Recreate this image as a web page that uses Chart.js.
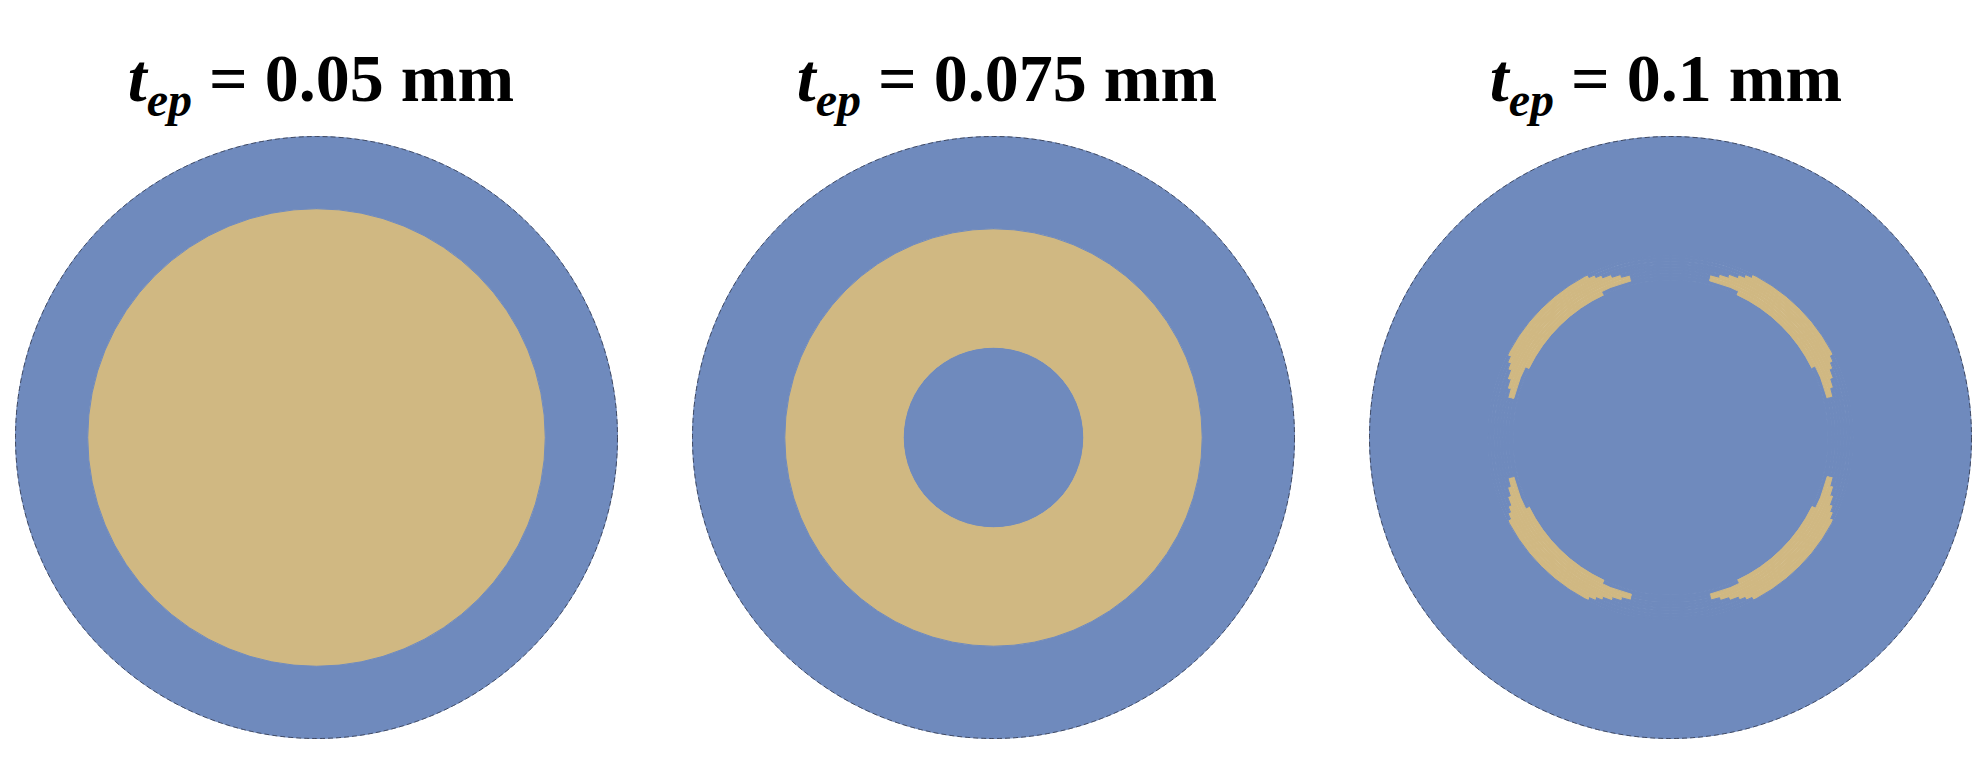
<!DOCTYPE html>
<html>
<head>
<meta charset="utf-8">
<script src="https://cdn.jsdelivr.net/npm/chart.js@4.4.1/dist/chart.umd.min.js"></script>
<style>
  body { margin: 0; background: #fff; width: 1980px; height: 757px; overflow: hidden; position: relative; }
  .title {
    position: absolute; top: 44px; transform: translateX(-50%); white-space: nowrap;
    font-family: "Liberation Serif", "Times New Roman", serif; font-weight: bold;
    font-size: 68px; line-height: 68px; color: #000;
  }
  .title i { font-style: italic; }
  .title sub { font-size: 48px; font-style: italic; vertical-align: baseline; position: relative; top: 15px; }
  .panel { position: absolute; top: 136px; width: 603px; height: 603px; }
</style>
</head>
<body>
<div class="title" id="t0" style="left:321px"></div>
<div class="title" id="t1" style="left:1007px"></div>
<div class="title" id="t2" style="left:1666px"></div>
<div class="panel" style="left:15px"><canvas id="c0"></canvas></div>
<div class="panel" style="left:692px"><canvas id="c1"></canvas></div>
<div class="panel" style="left:1369px"><canvas id="c2"></canvas></div>
<script>
const BLUE = '#6f8abd';
const TAN = '#d0b882';

// epoxy thickness of each panel (mm)
const thicknessLabels = ['0.05', '0.075', '0.1'];

// ring edges, outside -> centre (outer radius = 300)
const edgesThin = [300, 228, 0];
const fillsThin = [BLUE, TAN];

const edgesMid = [300, 208, 90, 0];
const fillsMid = [BLUE, TAN, BLUE];

// thick case: the tan crescents split into thin bands
const edgesThick = [300, 182, 179, 176, 173, 170, 167, 164, 161, 157, 0];
// start / stop of the tan arc in each band, degrees from vertical (one quadrant, mirrored)
const arcStart = [27, 25, 23, 20, 17, 14, 14, 25];
const arcEnd = [63, 65, 67, 70, 73, 76, 76, 64];

function ring(weight, data, colors) {
    return { data: data, weight: weight, backgroundColor: colors, borderColor: colors, borderWidth: 1 };
}

function solidRings(edges, fills) {
    return fills.map((c, i) => ring(edges[i] - edges[i + 1], [360], [c]));
}

function arcRing(weight, a, b) {
    let w = b - a;
    return ring(weight,
        [a, w, 180 - 2 * b, w, 2 * a, w, 180 - 2 * b, w, a],
        [BLUE, TAN, BLUE, TAN, BLUE, TAN, BLUE, TAN, BLUE]);
}

let thickSets = [ring(edgesThick[0] - edgesThick[1], [360], [BLUE])];
arcStart.forEach((a, i) => {
    thickSets.push(arcRing(edgesThick[i + 1] - edgesThick[i + 2], a, arcEnd[i]));
});
let last = edgesThick.length - 1;
thickSets.push(ring(edgesThick[last - 1] - edgesThick[last], [360], [BLUE]));

const panels = [
    solidRings(edgesThin, fillsThin),
    solidRings(edgesMid, fillsMid),
    thickSets
];

// thin dark rim round each cross-section
const rimPlugin = {
    id: 'rim',
    afterDatasetsDraw(chart) {
        let arc = chart.getDatasetMeta(0).data[0];
        let p = arc.getProps(['x', 'y', 'outerRadius'], true);
        let ctx = chart.ctx;
        ctx.save();
        ctx.beginPath();
        ctx.setLineDash([5, 3]);
        ctx.lineWidth = 1;
        ctx.strokeStyle = 'rgba(45,50,65,0.75)';
        ctx.arc(p.x, p.y, p.outerRadius, 0, Math.PI * 2);
        ctx.stroke();
        ctx.restore();
    }
};

panels.forEach((sets, k) => {
    document.getElementById('t' + k).innerHTML =
        '<i>t</i><sub>ep</sub> = ' + thicknessLabels[k] + ' mm';
    new Chart(document.getElementById('c' + k).getContext('2d'), {
        type: 'pie',
        data: { datasets: sets },
        options: {
            responsive: true,
            maintainAspectRatio: false,
            animation: false,
            events: [],
            layout: { padding: 0 },
            plugins: { legend: { display: false }, tooltip: { enabled: false } }
        },
        plugins: [rimPlugin]
    });
});
</script>
</body>
</html>
